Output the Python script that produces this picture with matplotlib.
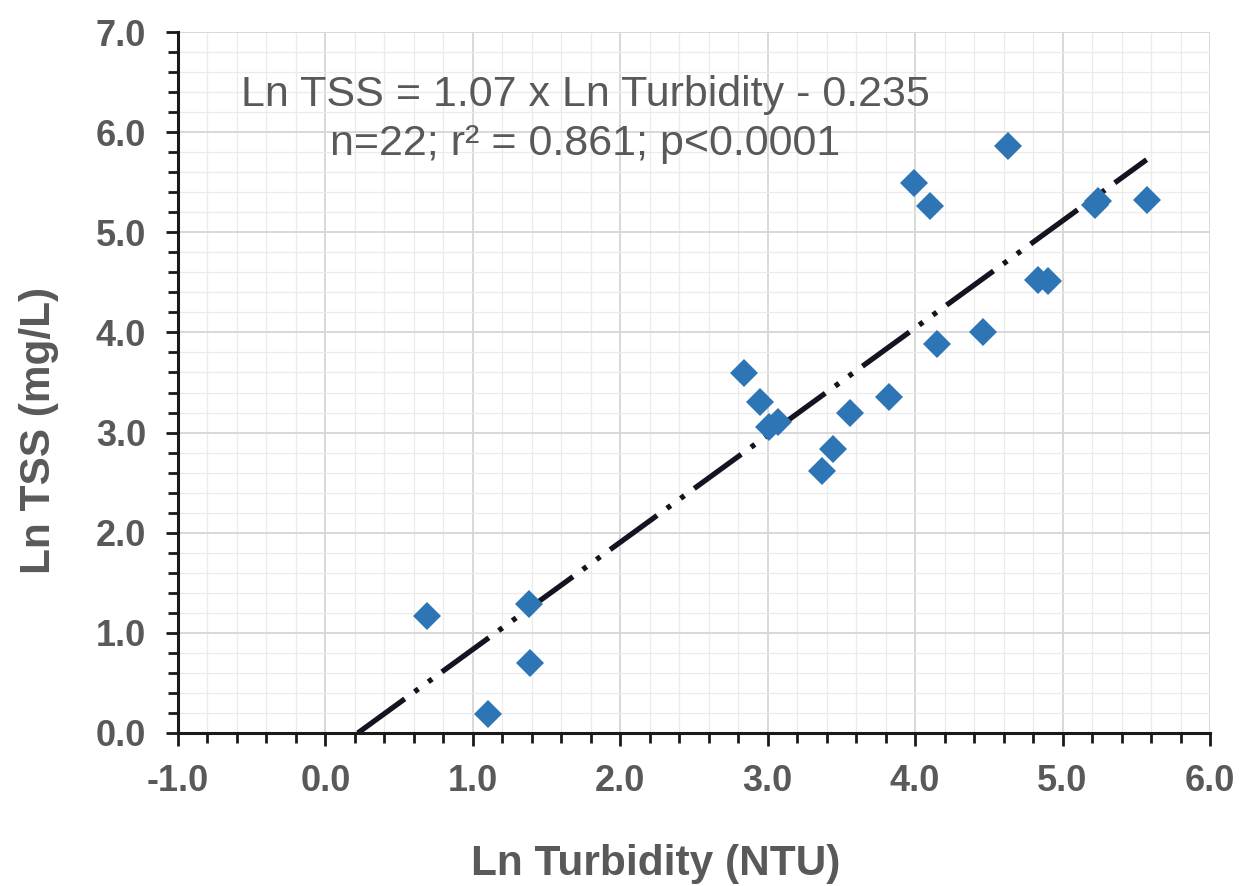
import numpy as np
import matplotlib
matplotlib.use("Agg")
import matplotlib.pyplot as plt
from matplotlib.ticker import MultipleLocator, FormatStrFormatter

# Values
ln_turbidity = [0.69, 1.10, 1.38, 1.39, 2.84, 2.95, 3.01, 3.07, 3.37, 3.44, 3.56,
                3.82, 3.99, 4.10, 4.15, 4.46, 4.63, 4.83, 4.90, 5.22, 5.24, 5.57]
ln_tss = [1.17, 0.19, 1.29, 0.70, 3.59, 3.31, 3.06, 3.11, 2.62, 2.84, 3.20,
          3.36, 5.49, 5.26, 3.88, 4.00, 5.86, 4.52, 4.51, 5.27, 5.31, 5.32]

slope = 1.07
intercept = -0.235
eq_line1 = "Ln TSS = 1.07 x Ln Turbidity - 0.235"
eq_line2 = "n=22; r\u00b2 = 0.861; p<0.0001"

plt.rcParams['axes.unicode_minus'] = False
plt.rcParams['font.family'] = ['Liberation Sans', 'DejaVu Sans']

text_grey = '#595959'

fig = plt.figure(figsize=(12.41, 8.86), dpi=100)
ax = fig.add_axes([178 / 1241, 1 - 733 / 886, 1032 / 1241, 701 / 886])

# grid
ax.set_axisbelow(True)
ax.xaxis.set_major_locator(MultipleLocator(1.0))
ax.yaxis.set_major_locator(MultipleLocator(1.0))
ax.xaxis.set_minor_locator(MultipleLocator(0.2))
ax.yaxis.set_minor_locator(MultipleLocator(0.2))
ax.grid(which='major', color='#d6d6d6', linewidth=1.3)
ax.grid(which='minor', color='#ebebeb', linewidth=0.9)

# trendline from where it crosses zero to the largest x
x0 = -intercept / slope
x_fit = np.array([x0, max(ln_turbidity)])
ax.plot(x_fit, slope * x_fit + intercept, color='#141420', linewidth=3.8,
        linestyle=(0, (11.0, 2.3, 0.9, 2.3, 0.9, 2.3)), zorder=2)

ax.plot(ln_turbidity, ln_tss, linestyle='none', marker='D', markersize=14,
        color='#2E75B6', markeredgewidth=0, zorder=3)

ax.set_xlim(-1.0, 6.0)
ax.set_ylim(0.0, 7.0)
ax.xaxis.set_major_formatter(FormatStrFormatter('%.1f'))
ax.yaxis.set_major_formatter(FormatStrFormatter('%.1f'))

for side in ['top', 'right']:
    ax.spines[side].set_visible(False)
for side in ['left', 'bottom']:
    ax.spines[side].set_linewidth(2.2)
    ax.spines[side].set_color('#1a1a1a')

ax.tick_params(which='major', direction='out', length=9, width=2.0, color='#1a1a1a',
               labelsize=26, labelcolor=text_grey)
ax.tick_params(which='minor', direction='out', length=7, width=2.0, color='#1a1a1a')
ax.tick_params(axis='x', which='major', pad=13)
ax.tick_params(axis='y', which='major', pad=14)
for lab in ax.get_xticklabels() + ax.get_yticklabels():
    lab.set_fontweight('bold')

# axis titles
fig.text(656 / 1241, 1 - 875 / 886, "Ln Turbidity (NTU)", ha='center', va='baseline',
         fontsize=30.5, fontweight='bold', color=text_grey)
fig.text(50 / 1241, 1 - 430 / 886, "Ln TSS (mg/L)", ha='center', va='baseline',
         rotation=90, rotation_mode='anchor',
         fontsize=30.5, fontweight='bold', color=text_grey)

# regression equation
fig.text(585 / 1241, 1 - 106 / 886, eq_line1, ha='center', va='baseline',
         fontsize=31, color=text_grey)
fig.text(585 / 1241, 1 - 155 / 886, eq_line2, ha='center', va='baseline',
         fontsize=31, color=text_grey)

fig.savefig("out.png", dpi=100)
